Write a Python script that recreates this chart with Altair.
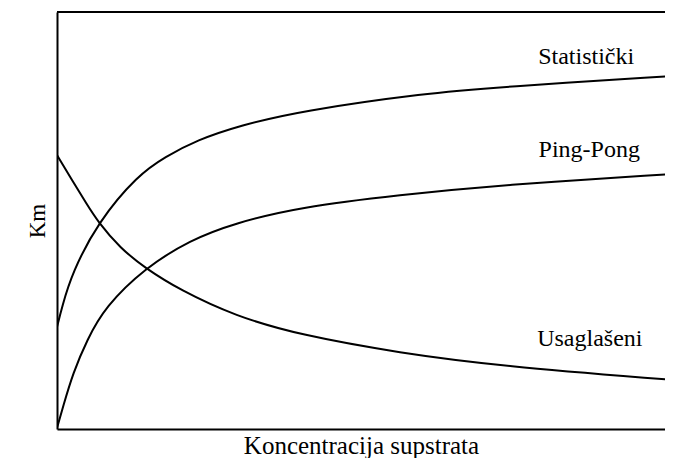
import altair as alt
import pandas as pd

# Values (arbitrary units, 0..100 on both axes;
# the right edge of the picture cuts the plot at about x = 98.7)
x_stat = [0, 0.81, 2.44, 6.66, 13.15, 17.53, 22.73, 29.71, 39.45, 60.06, 71.92, 100]
y_stat = [24.46, 29.26, 37.41, 49.64, 60.91, 65.23, 69.30, 72.78, 76.26, 80.58, 82.01, 84.65]

x_ping = [0, 0.97, 2.60, 4.87, 7.79, 14.29, 21.59, 28.90, 39.45, 55.68, 71.92, 100]
y_ping = [0.24, 5.28, 13.43, 21.34, 29.26, 38.61, 45.32, 49.40, 53.24, 56.12, 58.51, 61.15]

x_usag = [0, 2.44, 4.71, 6.66, 10.23, 14.29, 19.97, 28.90, 39.45, 55.68, 71.92, 100]
y_usag = [65.71, 59.71, 54.20, 49.64, 43.41, 38.61, 33.33, 27.10, 22.54, 18.23, 15.11, 11.75]

labels = ["Statistički", "Ping-Pong", "Usaglašeni"]
label_x = [85.9, 86.4, 86.5]
label_y = [87.5, 65.3, 19.9]

top_value = [100]

FONT = "Liberation Serif"

df = pd.concat([
    pd.DataFrame({"x": x_stat, "y": y_stat, "series": labels[0]}),
    pd.DataFrame({"x": x_ping, "y": y_ping, "series": labels[1]}),
    pd.DataFrame({"x": x_usag, "y": y_usag, "series": labels[2]}),
], ignore_index=True)

lab_df = pd.DataFrame({"x": label_x, "y": label_y, "label": labels})
top_df = pd.DataFrame({"top": top_value})

xscale = alt.Scale(domain=[0, 98.7], nice=False, zero=False)
yscale = alt.Scale(domain=[0, 100], nice=False, zero=False)

lines = alt.Chart(df).mark_line(
    color="black", strokeWidth=2, interpolate="basis", clip=True
).encode(
    x=alt.X("x:Q", scale=xscale, axis=alt.Axis(
        title="Koncentracija supstrata", labels=False, ticks=False, grid=False,
        domainColor="black", domainWidth=2, titleFont=FONT, titleFontSize=25,
        titleFontWeight="normal", titleColor="black", titlePadding=4)),
    y=alt.Y("y:Q", scale=yscale, axis=alt.Axis(
        title="Km", labels=False, ticks=False, grid=False,
        domainColor="black", domainWidth=2, titleFont=FONT, titleFontSize=23,
        titleFontWeight="normal", titleColor="black", titlePadding=8)),
    detail="series:N",
)

top_rule = alt.Chart(top_df).mark_rule(color="black", strokeWidth=2).encode(
    y=alt.Y("top:Q", scale=yscale)
)

texts = alt.Chart(lab_df).mark_text(
    font=FONT, fontSize=24, align="center", baseline="alphabetic", color="black"
).encode(
    x=alt.X("x:Q", scale=xscale),
    y=alt.Y("y:Q", scale=yscale),
    text="label:N",
)

chart = alt.layer(lines, top_rule, texts).properties(
    width=608, height=417,
    autosize=alt.AutoSizeParams(type="none"),
    padding={"left": 49, "top": 4, "right": 0, "bottom": 29},
    background="white",
).configure_view(stroke="transparent")

chart.save("out.html", embed_options={"renderer": "svg", "actions": False})
